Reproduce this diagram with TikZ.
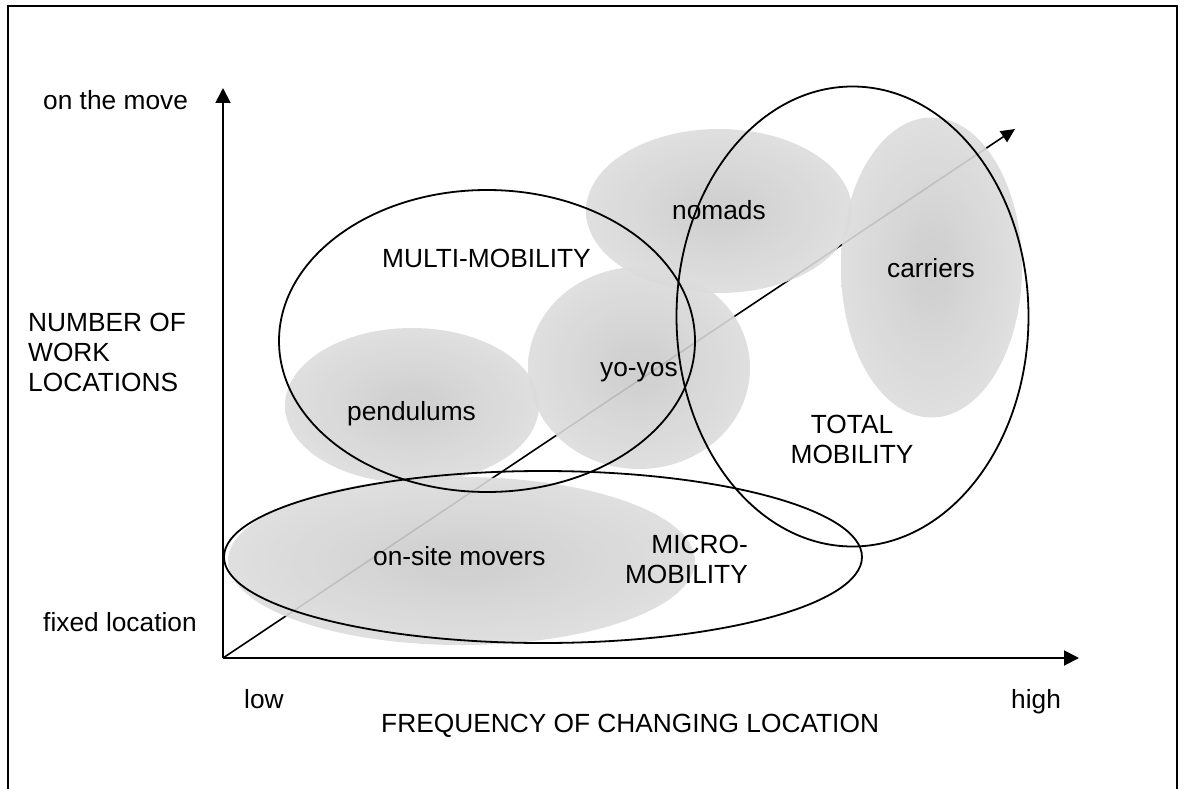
\documentclass[tikz,border=0pt]{standalone}
\usepackage{fontspec}
\setmainfont{Liberation Sans}
\usetikzlibrary{arrows.meta}
\definecolor{blobin}{gray}{0.79}
\definecolor{blobout}{gray}{0.94}
% soft grey cloud: darkest in the middle, fading out to the rim
\pgfdeclareradialshading{blob}{\pgfpoint{0bp}{0bp}}{color(0bp)=(blobin); color(50bp)=(blobout); color(100bp)=(blobout)}

\begin{document}
\begin{tikzpicture}[x=1pt,y=-1pt,
  axisline/.style={line width=1.9pt,-{Triangle[length=15pt,width=15pt]}},
  trendline/.style={line width=1.6pt,-{Triangle[length=14pt,width=13pt]}},
  zone/.style={draw,line width=1.8pt},
  cluster/.style={shading=blob,fill opacity=0.9},
  lbl/.style={inner sep=0pt,font=\fontsize{26.3}{30}\selectfont}
]
\useasboundingbox (0,0) rectangle (1184,789);
\fill[white] (0,0) rectangle (1184,789);

% frame (open at the bottom)
\draw[line width=2.2pt] (8,800) -- (8,6) -- (1177,6) -- (1177,800);

% axes end points
\coordinate (O) at (223,658);
\coordinate (ytop) at (223,88);
\coordinate (xend) at (1079,658);
\coordinate (dend) at (1015,129);

% diagonal trend, lies under the clouds
\draw[trendline] (O) -- (dend);

% clouds of worker types
\shade[cluster] (412,405.5) ellipse [x radius=127pt, y radius=77.5pt];
\shade[cluster] (461.5,561) ellipse [x radius=233.5pt, y radius=84pt];
\shade[cluster] (719,211) ellipse [x radius=133pt, y radius=82pt];
\shade[cluster] (639,368) ellipse [x radius=111pt, y radius=101pt];
\shade[cluster] (931.5,267.5) ellipse [x radius=90.5pt, y radius=150pt];

% mobility zones
\draw[zone] (487,341) ellipse [x radius=208pt, y radius=151pt];
\draw[zone] (852.5,316.5) ellipse [x radius=176pt, y radius=230pt];
\draw[zone] (543,557) ellipse [x radius=319pt, y radius=86pt];

% axes
\draw[axisline] (O) -- (ytop);
\draw[axisline] (O) -- (xend);

% labels (multi-line ones are placed by the baseline of their last line)
\node[lbl,anchor=base west] (onmove) at (43,109.3) {on the move};
\node[lbl,anchor=base west,align=left] (numloc) at (28,391.7) {NUMBER OF\\WORK\\LOCATIONS};
\node[lbl,anchor=base west] (fixed) at (43,631.7) {fixed location};
\node[lbl,anchor=base west] (low) at (244,708) {low};
\node[lbl,anchor=base west] (high) at (1011,708) {high};
\node[lbl,anchor=base west] (freq) at (381,732) {FREQUENCY OF CHANGING LOCATION};

\node[lbl,anchor=base west] (multi) at (382,267) {MULTI-MOBILITY};
\node[lbl,anchor=base,align=center] (total) at (852,463) {TOTAL\\MOBILITY};
\node[lbl,anchor=base east,align=right] (micro) at (748,583) {MICRO-\\MOBILITY};

\node[lbl,anchor=base west] (pend) at (347,420) {pendulums};
\node[lbl,anchor=base west] (yoyo) at (600,376.5) {yo-yos};
\node[lbl,anchor=base west] (nomad) at (672,219) {nomads};
\node[lbl,anchor=base west] (carr) at (887,277) {carriers};
\node[lbl,anchor=base west] (onsite) at (373,565) {on-site movers};
\end{tikzpicture}
\end{document}
